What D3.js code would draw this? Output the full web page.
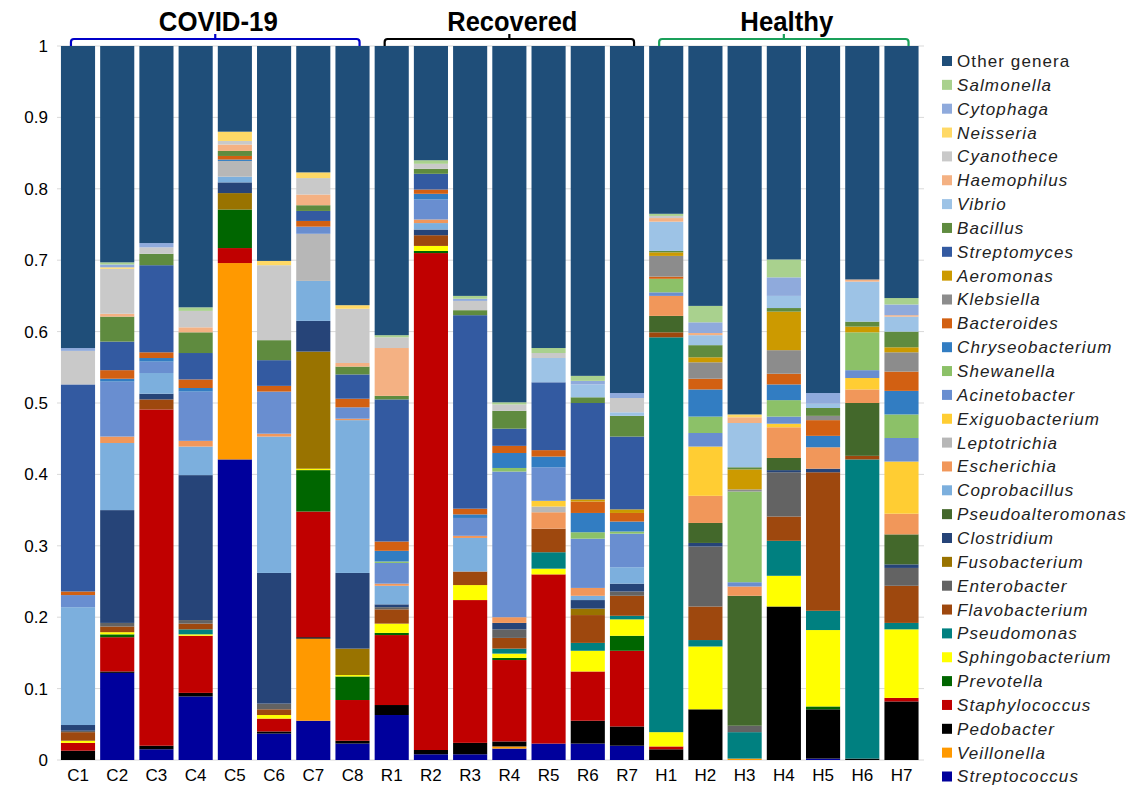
<!DOCTYPE html>
<html>
<head>
<meta charset="utf-8">
<script src="https://cdn.jsdelivr.net/npm/d3@7"></script>
<style>
  body { margin: 0; background: #fff; }
  svg { font-family: "Liberation Sans", Arial, sans-serif; }
</style>
</head>
<body>
<div id="chart"></div>
<script>
// samples, left to right
var samples = ["C1","C2","C3","C4","C5","C6","C7","C8",
               "R1","R2","R3","R4","R5","R6","R7",
               "H1","H2","H3","H4","H5","H6","H7"];

// genera, bottom of the stack to top
var genera = ["Streptococcus","Veillonella","Pedobacter","Staphylococcus","Prevotella",
  "Sphingobacterium","Pseudomonas","Flavobacterium","Enterobacter","Fusobacterium",
  "Clostridium","Pseudoalteromonas","Coprobacillus","Escherichia","Leptotrichia",
  "Exiguobacterium","Acinetobacter","Shewanella","Chryseobacterium","Bacteroides",
  "Klebsiella","Aeromonas","Streptomyces","Bacillus","Vibrio","Haemophilus",
  "Cyanothece","Neisseria","Cytophaga","Salmonella","Other genera"];

var colors = ["#00009c","#ff9900","#000000","#c00000","#006600",
  "#ffff00","#008080","#9e480e","#636363","#997300",
  "#264478","#43682b","#7cafdd","#f1975a","#b7b7b7",
  "#ffcd33","#698ed0","#8cc168","#327dc2","#d26012",
  "#8c8c8c","#cc9a00","#335aa1","#5f8b3f","#9dc3e6","#f4b183",
  "#c9c9c9","#ffd966","#8faadc","#a9d18e","#1f4e79"];

// relative abundance per sample (genera not listed are 0; Other genera = remainder)
var C1 = {Pedobacter:.013, Staphylococcus:.011, Sphingobacterium:.003, Flavobacterium:.012, Enterobacter:.002,
  Clostridium:.008, Coprobacillus:.165, Acinetobacter:.017, Bacteroides:.005, Streptomyces:.29,
  Cyanothece:.047, Cytophaga:.004};
var C2 = {Streptococcus:.122, Pedobacter:.002, Staphylococcus:.048, Sphingobacterium:.003, Prevotella:.004,
  Flavobacterium:.008, Enterobacter:.005, Clostridium:.158, Coprobacillus:.094, Escherichia:.009,
  Acinetobacter:.077, Chryseobacterium:.004, Bacteroides:.012, Streptomyces:.04, Bacillus:.035,
  Haemophilus:.004, Cyanothece:.063, Neisseria:.002, Cytophaga:.004, Salmonella:.003};
var C3 = {Streptococcus:.015, Pedobacter:.005, Staphylococcus:.471, Flavobacterium:.014, Clostridium:.008,
  Coprobacillus:.029, Acinetobacter:.016, Chryseobacterium:.005, Bacteroides:.008, Streptomyces:.122,
  Bacillus:.016, Cyanothece:.009, Cytophaga:.006};
var C4 = {Streptococcus:.089, Pedobacter:.005, Staphylococcus:.08, Sphingobacterium:.002, Pseudomonas:.007,
  Flavobacterium:.008, Enterobacter:.005, Clostridium:.203, Coprobacillus:.04, Escherichia:.008,
  Acinetobacter:.069, Chryseobacterium:.005, Bacteroides:.012, Streptomyces:.037, Bacillus:.029,
  Haemophilus:.007, Cyanothece:.023, Salmonella:.005};
var C5 = {Streptococcus:.421, Veillonella:.275, Staphylococcus:.021, Prevotella:.054, Fusobacterium:.023,
  Clostridium:.015, Coprobacillus:.008, Leptotrichia:.022, Chryseobacterium:.002, Bacteroides:.005,
  Bacillus:.007, Haemophilus:.009, Cyanothece:.005, Neisseria:.013};
var C6 = {Streptococcus:.037, Pedobacter:.003, Staphylococcus:.018, Sphingobacterium:.005, Flavobacterium:.008,
  Enterobacter:.008, Clostridium:.183, Coprobacillus:.191, Escherichia:.004, Acinetobacter:.059,
  Bacteroides:.008, Streptomyces:.036, Bacillus:.028, Cyanothece:.105, Neisseria:.006};
var C7 = {Streptococcus:.055, Veillonella:.115, Pedobacter:.002, Staphylococcus:.176, Prevotella:.058,
  Sphingobacterium:.002, Fusobacterium:.164, Clostridium:.043, Coprobacillus:.056, Leptotrichia:.066,
  Acinetobacter:.01, Bacteroides:.008, Streptomyces:.014, Bacillus:.008, Haemophilus:.015,
  Cyanothece:.023, Neisseria:.008};
var C8 = {Streptococcus:.023, Pedobacter:.004, Staphylococcus:.057, Prevotella:.033, Sphingobacterium:.002,
  Fusobacterium:.037, Clostridium:.106, Coprobacillus:.214, Escherichia:.002, Acinetobacter:.016,
  Bacteroides:.012, Streptomyces:.034, Bacillus:.011, Haemophilus:.005, Cyanothece:.076, Neisseria:.005};
var R1 = {Streptococcus:.063, Pedobacter:.014, Staphylococcus:.098, Prevotella:.003, Sphingobacterium:.013,
  Flavobacterium:.02, Enterobacter:.003, Clostridium:.004, Coprobacillus:.026, Escherichia:.003,
  Acinetobacter:.029, Shewanella:.002, Chryseobacterium:.015, Bacteroides:.013, Streptomyces:.199,
  Bacillus:.005, Haemophilus:.067, Cyanothece:.015, Salmonella:.003};
var R2 = {Streptococcus:.008, Pedobacter:.006, Staphylococcus:.696, Sphingobacterium:.007, Prevotella:.003,
  Flavobacterium:.015, Clostridium:.008, Coprobacillus:.009, Escherichia:.005, Acinetobacter:.028,
  Chryseobacterium:.008, Bacteroides:.006, Streptomyces:.022, Bacillus:.007, Cyanothece:.007, Salmonella:.005};
var R3 = {Streptococcus:.008, Pedobacter:.016, Staphylococcus:.2, Sphingobacterium:.021, Flavobacterium:.019,
  Coprobacillus:.047, Escherichia:.003, Acinetobacter:.025, Chryseobacterium:.005, Bacteroides:.008,
  Streptomyces:.271, Bacillus:.007, Cyanothece:.013, Cytophaga:.003, Salmonella:.004};
var R4 = {Streptococcus:.016, Veillonella:.003, Pedobacter:.007, Staphylococcus:.114, Prevotella:.003,
  Sphingobacterium:.006, Pseudomonas:.007, Flavobacterium:.015, Enterobacter:.012, Clostridium:.009,
  Escherichia:.008, Acinetobacter:.204, Shewanella:.005, Chryseobacterium:.021, Bacteroides:.01,
  Streptomyces:.024, Bacillus:.025, Cyanothece:.009, Salmonella:.003};
var R5 = {Streptococcus:.023, Staphylococcus:.237, Sphingobacterium:.008, Pseudomonas:.023, Flavobacterium:.033,
  Escherichia:.023, Leptotrichia:.008, Exiguobacterium:.008, Acinetobacter:.047, Chryseobacterium:.015,
  Bacteroides:.009, Streptomyces:.095, Vibrio:.034, Cyanothece:.007, Salmonella:.007};
var R6 = {Streptococcus:.023, Pedobacter:.032, Staphylococcus:.069, Sphingobacterium:.029, Pseudomonas:.011,
  Flavobacterium:.039, Fusobacterium:.009, Clostridium:.012, Coprobacillus:.006, Escherichia:.011,
  Acinetobacter:.069, Shewanella:.009, Chryseobacterium:.027, Bacteroides:.016, Aeromonas:.003,
  Streptomyces:.135, Bacillus:.008, Vibrio:.018, Cytophaga:.005, Salmonella:.007};
var R7 = {Streptococcus:.02, Pedobacter:.027, Staphylococcus:.106, Prevotella:.021, Sphingobacterium:.023,
  Pseudomonas:.005, Flavobacterium:.028, Enterobacter:.006, Clostridium:.011, Coprobacillus:.023,
  Acinetobacter:.047, Shewanella:.003, Chryseobacterium:.014, Bacteroides:.012, Aeromonas:.005,
  Streptomyces:.102, Bacillus:.029, Vibrio:.005, Cyanothece:.02, Cytophaga:.007};
var H1 = {Pedobacter:.015, Staphylococcus:.004, Sphingobacterium:.02, Pseudomonas:.553, Flavobacterium:.007,
  Pseudoalteromonas:.023, Escherichia:.028, Acinetobacter:.005, Shewanella:.019, Bacteroides:.003,
  Klebsiella:.029, Aeromonas:.005, Bacillus:.002, Vibrio:.041, Haemophilus:.005, Cyanothece:.003, Salmonella:.003};
var H2 = {Pedobacter:.071, Sphingobacterium:.088, Pseudomonas:.009, Flavobacterium:.047, Enterobacter:.084,
  Clostridium:.005, Pseudoalteromonas:.028, Escherichia:.038, Exiguobacterium:.069, Acinetobacter:.019,
  Shewanella:.023, Chryseobacterium:.038, Bacteroides:.015, Klebsiella:.023, Aeromonas:.007,
  Bacillus:.017, Vibrio:.014, Haemophilus:.003, Cytophaga:.015, Salmonella:.023};
var H3 = {Veillonella:.002, Pseudomonas:.037, Enterobacter:.009, Pseudoalteromonas:.182, Escherichia:.013,
  Acinetobacter:.006, Shewanella:.127, Klebsiella:.003, Aeromonas:.028, Bacillus:.003, Vibrio:.062,
  Haemophilus:.008, Neisseria:.004};
var H4 = {Pedobacter:.215, Sphingobacterium:.043, Pseudomonas:.049, Flavobacterium:.034, Enterobacter:.062,
  Clostridium:.003, Pseudoalteromonas:.017, Escherichia:.043, Exiguobacterium:.005, Acinetobacter:.01,
  Shewanella:.023, Chryseobacterium:.022, Bacteroides:.015, Klebsiella:.033, Aeromonas:.054,
  Bacillus:.005, Vibrio:.017, Cytophaga:.026, Salmonella:.025};
var H5 = {Streptococcus:.002, Pedobacter:.069, Prevotella:.004, Sphingobacterium:.107, Pseudomonas:.027,
  Flavobacterium:.194, Clostridium:.005, Escherichia:.03, Chryseobacterium:.016, Bacteroides:.022,
  Klebsiella:.006, Bacillus:.011, Vibrio:.006, Cytophaga:.015};
var H6 = {Pedobacter:.002, Pseudomonas:.419, Flavobacterium:.005, Pseudoalteromonas:.074, Escherichia:.019,
  Exiguobacterium:.016, Acinetobacter:.011, Shewanella:.053, Aeromonas:.008, Bacillus:.007, Vibrio:.056,
  Haemophilus:.003};
var H7 = {Pedobacter:.082, Staphylococcus:.005, Sphingobacterium:.096, Pseudomonas:.009, Flavobacterium:.052,
  Enterobacter:.025, Clostridium:.005, Pseudoalteromonas:.042, Escherichia:.029, Exiguobacterium:.073,
  Acinetobacter:.033, Shewanella:.033, Chryseobacterium:.033, Bacteroides:.027, Klebsiella:.027,
  Aeromonas:.007, Bacillus:.022, Vibrio:.021, Haemophilus:.002, Cytophaga:.015, Salmonella:.009};

var sampleData = [C1,C2,C3,C4,C5,C6,C7,C8,R1,R2,R3,R4,R5,R6,R7,H1,H2,H3,H4,H5,H6,H7];

// groups across the top: label, first sample, last sample, colour, title width
var groups = [
  { name: "COVID-19",  from: "C1", to: "C8", color: "#0000c8", w: 119 },
  { name: "Recovered", from: "R1", to: "R7", color: "#000000", w: 130 },
  { name: "Healthy",   from: "H1", to: "H7", color: "#1aa05a", w: 93 }
];

var yTicks = [0, 0.1, 0.2, 0.3, 0.4, 0.5, 0.6, 0.7, 0.8, 0.9, 1];

// build table
var table = samples.map(function(s, i) {
  var row = { sample: s };
  var total = 0;
  genera.forEach(function(g) {
    if (g === "Other genera") return;
    row[g] = sampleData[i][g] || 0;
    total += row[g];
  });
  row["Other genera"] = Math.max(0, 1 - total);
  return row;
});

var W = 1141, H = 796;
var svg = d3.select("#chart").append("svg")
  .attr("width", W).attr("height", H);

var x = d3.scaleBand()
  .domain(samples)
  .range([58.4, 921.1])
  .paddingInner(0.13)
  .paddingOuter(0.065);

var y = d3.scaleLinear().domain([0, 1]).range([760, 46]);

var color = d3.scaleOrdinal().domain(genera).range(colors);

// gridlines
svg.append("g")
  .selectAll("line")
  .data(yTicks)
  .join("line")
    .attr("x1", 57).attr("x2", 924)
    .attr("y1", function(d) { return y(d); })
    .attr("y2", function(d) { return y(d); })
    .attr("stroke", "#d9d9d9")
    .attr("stroke-width", 1);

// y axis labels
var yAxis = d3.axisLeft(y).tickValues(yTicks).tickSize(0).tickPadding(0)
  .tickFormat(function(d) { return d === 0 || d === 1 ? d : d3.format(".1f")(d); });
var gy = svg.append("g")
  .attr("transform", "translate(48,0)")
  .call(yAxis);
gy.select(".domain").remove();
gy.selectAll("text")
  .attr("font-size", "17px")
  .attr("fill", "#000")
  .attr("font-family", "Liberation Sans, Arial, sans-serif");

// stacked bars
var stack = d3.stack().keys(genera);
var series = stack(table);

svg.append("g")
  .selectAll("g")
  .data(series)
  .join("g")
    .attr("fill", function(d) { return color(d.key); })
  .selectAll("rect")
  .data(function(d) { return d; })
  .join("rect")
    .attr("x", function(d) { return x(d.data.sample); })
    .attr("y", function(d) { return y(Math.min(1, d[1])); })
    .attr("width", x.bandwidth())
    .attr("height", function(d) { return Math.max(0, y(d[0]) - y(Math.min(1, d[1]))); });

// x axis labels
var xAxis = d3.axisBottom(x).tickSize(0).tickPadding(0);
var gx = svg.append("g")
  .attr("transform", "translate(0,769)")
  .call(xAxis);
gx.select(".domain").remove();
gx.selectAll("text")
  .attr("font-size", "17px")
  .attr("fill", "#000")
  .attr("dy", "0.71em")
  .attr("font-family", "Liberation Sans, Arial, sans-serif");

// group brackets and titles
var gg = svg.append("g");
groups.forEach(function(g) {
  var x0 = x(g.from) + 10, x1 = x(g.to) + x.bandwidth() - 10;
  var mid = (x0 + x1) / 2;
  gg.append("path")
    .attr("d", "M" + x0 + ",46 L" + x0 + ",42 Q" + x0 + ",39 " + (x0 + 3) + ",39 L" + (x1 - 3) + ",39 Q" + x1 + ",39 " + x1 + ",42 L" + x1 + ",46" +
               " M" + mid + ",39 L" + mid + ",34")
    .attr("fill", "none")
    .attr("stroke", g.color)
    .attr("stroke-width", 2.2);
  gg.append("text")
    .attr("x", mid + 3)
    .attr("y", 31)
    .attr("text-anchor", "middle")
    .attr("font-size", "27px")
    .attr("font-weight", "bold")
    .attr("textLength", g.w)
    .attr("lengthAdjust", "spacingAndGlyphs")
    .attr("fill", "#000")
    .text(g.name);
});

// legend, top item is Other genera
var legendItems = genera.slice().reverse();
var legend = svg.append("g")
  .selectAll("g")
  .data(legendItems)
  .join("g")
    .attr("transform", function(d, i) { return "translate(942," + (61 + i * 23.85) + ")"; });

legend.append("rect")
  .attr("x", 0).attr("y", -5)
  .attr("width", 10).attr("height", 10)
  .attr("fill", function(d) { return color(d); });

legend.append("text")
  .attr("x", 15)
  .attr("y", 0)
  .attr("dy", "0.35em")
  .attr("font-size", "17px")
  .attr("letter-spacing", "1.1px")
  .attr("fill", "#222")
  .attr("font-style", function(d) { return d === "Other genera" ? "normal" : "italic"; })
  .text(function(d) { return d; });
</script>
</body>
</html>
